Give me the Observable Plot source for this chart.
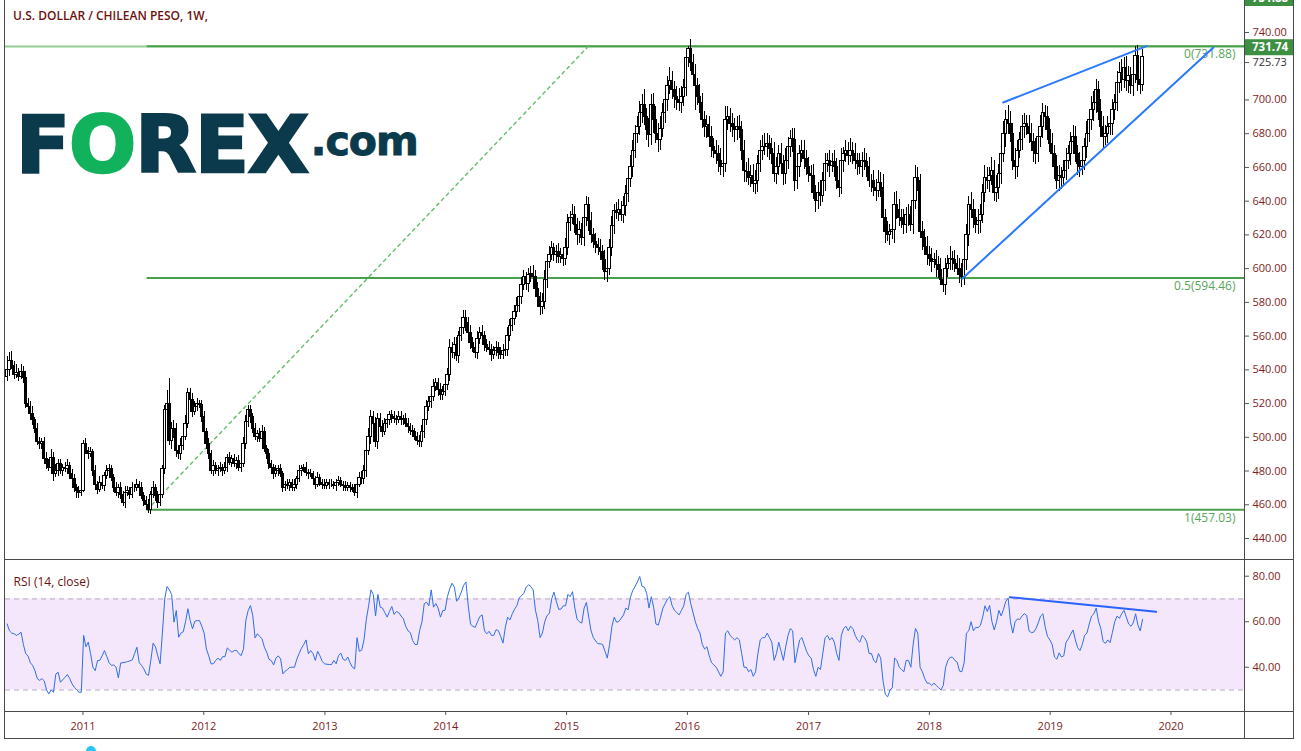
<!DOCTYPE html>
<html><head><meta charset="utf-8">
<script src="https://cdn.jsdelivr.net/npm/d3@7"></script>
<script src="https://cdn.jsdelivr.net/npm/@observablehq/plot@0.6"></script>
<style>
body{margin:0;background:#fff;}
#wrap{position:relative;width:1301px;height:751px;overflow:hidden;background:#fff;font-family:"Open Sans",sans-serif;}
#wrap svg{position:absolute;left:0;display:block;}
.ln{position:absolute;background:#4a4a4a;}
#title{position:absolute;left:13px;top:7px;font:600 12px "Open Sans",sans-serif;color:#6d1010;white-space:nowrap;z-index:3;}
#logo{position:absolute;left:16px;top:106px;z-index:3;font-family:"DejaVu Sans",sans-serif;font-weight:bold;white-space:nowrap;line-height:1;}
#logo .big{font-size:79px;color:#0b3a4c;letter-spacing:-1px;-webkit-text-stroke:2.5px #0b3a4c;}
#logo .o{color:#12b25d;-webkit-text-stroke:2.5px #12b25d;}
#logo .com{font-size:41px;color:#0b3a4c;letter-spacing:-1px;position:relative;top:-17px;margin-left:3px;-webkit-text-stroke:1px #0b3a4c;}
#cyan{position:absolute;left:86px;top:746px;width:10px;height:10px;border-radius:50%;background:#2cc4f4;}
</style></head><body><div id="wrap">
<div id="title">U.S. DOLLAR / CHILEAN PESO, 1W,</div>
<div id="logo"><span class="big">F<span class="o">O</span>REX</span><span class="com">.com</span></div>
<div id="cyan"></div>
</div>
<script>
// ---------------- DATA ----------------
const firstWeek = "2010-05-17";
const firstOpen = 536;
const close2010 = [540,545,542,537,538,536,539,535,520,518,514,510,505,497,496,497,487,484,482,488,478,480,484,480,482,481,483,478,475,470,468,467,468];
const close2011 = [496,492,490,491,480,472,469,473,471,477,480,481,476,470,467,470,466,461,467,468,466,470,470,472,470,465,462,460,457,466,470,465,461,466,481,516,520,498,505,505,492,490,495,500,508,526,522,515,518,520,519,512];
const close2012 = [503,496,490,480,483,480,481,482,480,482,488,485,487,484,486,482,484,496,509,516,512,505,500,502,499,503,493,490,484,482,478,480,481,478,470,472,471,473,470,472,475,480,481,482,479,478,478,475,472,476,473,472,471];
const close2013 = [473,472,472,471,473,474,472,471,470,471,470,469,467,472,476,475,480,492,500,512,508,497,511,506,503,508,510,513,512,511,510,512,510,511,508,506,504,503,500,498,497,503,510,518,521,524,530,532,528,525,527,531];
const close2014 = [537,553,550,555,548,560,565,571,568,562,556,553,550,558,562,560,555,553,552,549,551,553,550,549,551,552,560,566,570,574,578,583,590,595,591,596,597,595,588,583,577,580,593,604,608,612,608,610,607,608,606,612];
const close2015 = [627,630,632,626,620,623,618,630,638,628,620,616,614,612,610,605,598,600,612,625,634,633,635,632,637,644,653,660,670,680,684,692,697,690,682,679,697,688,680,676,683,692,700,708,711,706,702,700,698,702,707,725];
const close2016 = [730,722,715,708,702,698,688,684,685,678,672,670,668,664,660,662,688,690,686,684,682,684,682,670,658,657,654,655,650,652,662,670,672,672,674,671,668,656,660,668,662,656,664,672,677,676,652,660,668,670,665,660];
const close2017 = [656,655,645,640,645,643,652,662,664,661,663,660,652,648,664,668,670,667,670,668,664,662,660,664,663,660,652,652,648,646,651,648,630,622,620,622,623,638,635,630,628,626,632,632,626,640,654,652,622,618,613,608];
const close2018 = [606,604,605,602,599,593,590,600,603,606,605,603,600,596,595,605,620,638,635,630,626,628,632,645,654,652,655,658,645,648,656,668,680,688,686,680,664,660,670,676,684,686,684,680,675,670,668,678,684,692,690,682,674];
const close2019 = [668,660,652,655,654,658,664,668,675,678,668,662,660,664,672,680,688,694,698,706,693,684,678,680,684,686,694,698,710,716,712,719,711,714,708,715,726,712,709,725.73];

// upper / lower wick lengths beyond the candle body
const up2010 = [8,5,6,3,5,3,4,3,4,3,3,4,2,3,3,2,3,4,3,5,3,4,3,3,2,3,4,2,3,3,2,3,2];
const dn2010 = [3,4,2,3,2,3,2,3,3,2,4,3,3,2,3,3,2,3,2,3,4,2,3,2,3,2,3,3,2,3,4,3,2];
const up2011 = [2,3,2,3,2,3,2,4,3,2,3,3,2,2,3,2,3,2,4,3,2,3,2,3,2,3,2,3,3,2,4,2,3,2,2,3,8,15,4,5,3,3,4,3,5,3,3,4,3,3,2,3];
const dn2011 = [1,2,3,2,3,2,3,2,2,3,2,3,2,3,2,3,3,2,3,2,3,2,3,2,3,2,3,2,2,3,2,3,3,2,2,3,4,3,5,6,4,3,4,3,2,3,4,3,2,3,2,3];
const up2012 = [3,2,3,2,3,2,2,3,2,3,2,3,2,3,2,3,2,4,4,3,3,2,3,2,3,4,3,2,3,2,2,3,2,3,2,2,3,2,2,3,2,3,2,2,3,2,3,2,2,3,2,2,3];
const dn2012 = [2,3,3,2,3,2,3,2,3,2,3,2,3,2,3,2,3,2,3,3,4,3,2,3,2,3,2,3,3,2,3,2,3,2,3,2,2,3,2,2,3,2,3,2,2,3,2,2,3,2,2,3,2];
const up2013 = [2,2,3,2,2,3,2,2,3,2,2,2,3,2,3,4,3,4,5,4,3,4,3,3,4,3,3,2,3,3,2,3,3,2,3,3,2,3,2,3,3,4,3,4,3,3,4,3,3,4,3,4];
const dn2013 = [2,3,2,2,3,2,2,3,2,2,3,2,2,3,2,3,3,4,3,4,3,3,4,3,3,2,3,3,4,3,3,2,3,3,2,4,3,3,2,3,3,3,4,3,3,4,3,3,4,3,3,3];
const up2014 = [4,5,3,4,4,3,5,4,4,3,4,3,4,5,3,4,3,3,4,3,3,4,3,3,4,3,5,4,3,4,5,4,5,4,3,4,4,5,4,4,3,5,6,4,5,4,3,4,5,4,4,6];
const dn2014 = [3,4,3,4,3,4,3,4,5,3,4,3,3,4,3,3,4,3,3,4,3,3,4,3,3,3,4,3,3,4,3,4,4,3,4,5,4,4,5,6,5,4,4,5,4,3,4,5,4,4,5,4];
const up2015 = [5,4,6,5,4,5,4,6,5,4,5,4,5,4,5,4,6,5,5,6,4,5,6,5,6,5,6,7,6,5,6,7,6,9,5,7,6,7,8,6,7,6,7,6,8,6,5,6,7,6,5,5];
const dn2015 = [4,5,4,5,6,5,4,5,5,6,5,4,5,4,5,6,5,6,4,5,5,4,5,4,5,6,5,5,6,5,6,5,6,5,6,7,6,8,6,7,6,5,6,7,5,6,7,6,5,6,6,5];
const up2016 = [1.9,6,5,6,5,7,6,5,6,5,6,5,6,5,7,6,8,6,5,6,5,6,7,5,6,5,8,6,7,6,5,6,7,8,6,5,6,7,6,5,6,5,7,6,5,6,7,6,5,6,6,5];
const dn2016 = [6,5,6,14,5,6,5,6,7,5,6,5,6,7,5,6,5,6,5,6,7,6,5,6,7,6,5,6,5,6,7,5,6,5,6,7,6,5,6,5,6,7,6,5,6,7,6,5,6,5,6,5];
const up2017 = [6,5,7,4,6,7,5,6,4,6,5,7,5,6,7,4,6,5,7,5,6,4,6,5,7,5,6,4,6,5,7,6,8,5,6,4,6,7,8,6,5,7,4,6,5,8,7,6,4,6,5,6];
const dn2017 = [5,6,4,7,5,6,4,6,5,7,4,6,5,6,4,7,5,6,4,6,5,7,4,6,5,6,4,7,5,6,4,6,5,7,4,6,5,8,6,5,4,6,5,7,4,6,5,6,4,7,5,6];
const up2018 = [5,6,4,6,5,7,4,6,5,7,4,6,5,6,7,8,6,5,7,6,5,7,6,5,7,6,5,8,6,7,6,8,7,6,9,7,6,7,6,5,7,6,5,7,6,5,7,6,7,6,5,6,7];
const dn2018 = [5,6,4,7,5,3,4,6,5,4,6,5,3,5,6,5,6,7,5,6,5,6,7,5,6,5,7,6,5,6,7,6,5,8,6,5,6,7,6,5,6,7,5,6,5,7,6,5,6,7,5,6,5];
const up2019 = [6,5,7,6,5,6,7,5,6,7,6,5,7,6,5,7,6,8,7,6,5,7,6,5,6,7,6,5,7,6,8,6,7,6,5,7,5.7,6,5,4];
const dn2019 = [6,7,5,6,7,5,6,5,7,6,5,7,6,5,6,7,5,6,7,6,5,6,7,5,6,5,7,6,5,6,7,5,6,7,5,6,5,7,6,4];

// RSI (14, close), weekly
const rsi2010 = [59,56,55,54.7,54,54.5,55.4,50,46,45,42,40.8,38.5,35,34.2,35,34,30,28.3,30,29,37,37.8,33.4,34.5,35.6,36.8,35,32.7,31.2,30,29,29];
const rsi2011 = [54,49,51,46,40,38.5,42.9,43,45,47.3,44.7,42,40.8,41,40,35.3,41.9,42,42.2,42.5,42.8,43.2,46,48.8,42,40.8,39.3,37,36.4,43,50.6,49,45,41.5,55,70,75.5,74,72,59.8,64.9,53.2,55,55.6,60,65.7,60.5,56.9,60.2,60.5,60.5,58];
const rsi2012 = [55,48,45,41.5,41.5,43,44,43,44.7,44.6,48.5,47.5,46.6,47.3,47.4,46,45.1,48.1,60.5,64.9,67.1,62.7,52.9,54.7,53.5,52.5,48.8,46.6,43.5,42.9,41,44,45,43.7,37.1,38.3,39,40,40,40,43.5,46,48.3,50,52,45.9,47.3,46,43,47,45,42.5,41.5];
const rsi2013 = [41.3,41.2,41.2,43,41.5,45.1,46.2,43.5,43,44.5,42,40,39.3,53,47,47.5,52,61,67,74,72,62.5,72,66.4,66,64,62,64.5,66.7,63.2,64.5,64,62.5,61.3,58,56,55.2,51.7,50,50,56.1,59.8,67.9,68.6,67,74,66.4,68,66,62,64.9,65];
const rsi2014 = [71,74.5,76.9,75.2,69,70.5,73,76,77.5,67,58.8,58,57.5,60,62.3,63,56,54.7,55.8,54,54,56.5,56,53.5,50.6,57.6,62,60.8,63.5,65.5,67.1,70.5,71.4,72.5,75.2,76.2,75.5,74,65,60.5,53,55,60,62.7,63.6,70,73,69,65.5,65.5,67,67];
const rsi2015 = [72,71,73.2,66,61,60,59.4,66,68.5,62,56,53,51.5,50.3,50.3,50,47,44,50,58,62,59.8,60.1,61.5,63,66,65.2,70.8,73.8,75.5,77.5,79.9,75.5,75.2,72.5,66,71,66.4,59,58.5,62,66,68,70,71,67,65,64,63,65,67,72];
const rsi2016 = [73,68,64,60,57,55,50,48,49,45,42,41,40,38,36,38,55,56,54,53,52,53,52,46,40,40,38,39,36,38,46,52,53,53,55,53,51,43,46,51,47,43,49,54,57,56,42,47,52,53,50,47];
const rsi2017 = [45,44,39,36,40,39,46,53,54,52,53,51,46,43,54,57,58,56,58,57,54,52,51,54,53,51,46,46,43,42,46,44,34,28,27,30,31,44,43,40,39,38,43,43,40,50,57,55,40,38,35,33];
const rsi2018 = [33,32,33,32,31,30,32,40,43,44.4,44.4,43,42.2,38.3,38,42,55,56,60,56,57.5,57.4,58.3,62,67,64.5,67.2,60,56.4,60,65,62.5,65.5,69,70.3,60,55,60,61.2,61,62.5,63.5,62.8,56,55.2,55.4,57,59.5,62.5,63.5,57.6,53.5,52];
const rsi2019 = [50,44.5,43.5,46.3,44.5,45,51,52.5,54.5,56.4,52,48.6,47.3,50,54,55,59,62.5,63.5,66,60.2,57,51.3,50.5,52,50.8,55.3,60,62.5,61.5,63.5,65,62,59,58,59.5,63.5,58.5,56,61];

// axis ticks
const priceTicks = [740,700,680,660,640,620,600,580,560,540,520,500,480,460,440];
const rsiTicks = [80,60,40];
const yearTicks = [2011,2012,2013,2014,2015,2016,2017,2018,2019,2020];
const lastPrice = 725.73;
const boxPrice = 731.74;
const topBoxPrice = 751.88;

// drawings
const hLevels = [731.74];
const fibValues = [731.88, 594.46, 457.03];
const fibLabels = ["0(731.88)", "0.5(594.46)", "1(457.03)"];
const fibStart = "2011-07-14";
const fibDiagDates = ["2011-07-14", "2015-03-08"];
const fibDiagValues = [457.03, 731.88];
const trendIds = ["upper", "upper", "lower", "lower"];
const trendDates = ["2018-08-12", "2019-10-19", "2018-04-10", "2020-05-08"];
const trendValues = [698.5, 731.9, 594.0, 731.1];
const rsiTrendDates = ["2018-09-01", "2019-11-17"];
const rsiTrendValues = [70.8, 64.35];

// ---------------- BUILD ----------------
const DAY = 864e5;
const xStart = new Date("2010-05-12T00:00:00Z");
const xEnd = new Date("2020-08-10T00:00:00Z");
const t0 = +new Date(firstWeek + "T00:00:00Z");
const closes = [...close2010, ...close2011, ...close2012, ...close2013, ...close2014, ...close2015, ...close2016, ...close2017, ...close2018, ...close2019];
const ups = [...up2010, ...up2011, ...up2012, ...up2013, ...up2014, ...up2015, ...up2016, ...up2017, ...up2018, ...up2019];
const dns = [...dn2010, ...dn2011, ...dn2012, ...dn2013, ...dn2014, ...dn2015, ...dn2016, ...dn2017, ...dn2018, ...dn2019];
const rsis = [...rsi2010, ...rsi2011, ...rsi2012, ...rsi2013, ...rsi2014, ...rsi2015, ...rsi2016, ...rsi2017, ...rsi2018, ...rsi2019];
if (ups.length !== closes.length || dns.length !== closes.length || rsis.length !== closes.length)
  console.error("length mismatch", closes.length, ups.length, dns.length, rsis.length);

const candles = closes.map((c, i) => {
  const o = i ? closes[i - 1] : firstOpen;
  return {date: new Date(t0 + i * 7 * DAY), open: o, close: c,
          high: Math.max(o, c) + (ups[i] ?? 3), low: Math.min(o, c) - (dns[i] ?? 3)};
});
const rsiData = rsis.map((v, i) => ({date: new Date(t0 + i * 7 * DAY), v}));
const fibData = fibValues.map((v, i) => ({v, label: fibLabels[i], start: new Date(fibStart + "T00:00:00Z"), end: xEnd}));
const fibDiag = fibDiagDates.map((d, i) => ({date: new Date(d + "T00:00:00Z"), v: fibDiagValues[i]}));
const trendData = trendDates.map((d, i) => ({id: trendIds[i], date: new Date(d + "T00:00:00Z"), v: trendValues[i]}));
const rsiTrend = rsiTrendDates.map((d, i) => ({date: new Date(d + "T00:00:00Z"), v: rsiTrendValues[i]}));
const yearDates = yearTicks.map(y => new Date(Date.UTC(y, 0, 1)));

const AXIS_RED = "#7f1d1d";
const FONT = "'Open Sans', sans-serif";
const wrap = document.getElementById("wrap");

// ---------- price panel ----------
const price = Plot.plot({
  width: 1301, height: 559,
  marginLeft: 5, marginRight: 57, marginTop: 0, marginBottom: 0,
  style: {fontFamily: FONT, fontSize: "11px", background: "transparent", overflow: "visible"},
  x: {type: "utc", domain: [xStart, xEnd], axis: null},
  y: {domain: [427.55, 758.97]},
  marks: [
    Plot.ruleY(hLevels, {stroke: "#93cd95", strokeWidth: 2}),
    Plot.ruleY(fibData, {y: "v", x1: "start", x2: "end", stroke: "#48a04c", strokeWidth: 2}),
    Plot.line(fibDiag, {x: "date", y: "v", stroke: "#6cc070", strokeWidth: 1.5, strokeDasharray: "3,4"}),
    Plot.text(fibData, {y: "v", text: "label", frameAnchor: "right", textAnchor: "end", dx: -9, dy: 8, fill: "#5aa55d", fontSize: 12}),
    Plot.ruleX(candles, {x: "date", y1: "low", y2: "high", stroke: "#000", strokeWidth: 1, shapeRendering: "crispEdges"}),
    Plot.rect(candles, {
      x1: d => new Date(+d.date - 3.5 * DAY), x2: d => new Date(+d.date + 3.5 * DAY),
      y1: "open", y2: "close",
      fill: d => d.close >= d.open ? "#fff" : "#000", stroke: "#000", strokeWidth: 1, shapeRendering: "crispEdges"
    }),
    Plot.line(trendData, {x: "date", y: "v", z: "id", stroke: "#2979ff", strokeWidth: 2}),
    Plot.axisY(priceTicks, {anchor: "right", tickSize: 4, tickPadding: 4, tickFormat: d => d.toFixed(2), stroke: "#555", fill: AXIS_RED, label: null}),
    Plot.axisY([lastPrice], {anchor: "right", tickSize: 4, tickPadding: 4, tickFormat: d => d.toFixed(2), stroke: "#555", fill: "#333", dy: 6, label: null})
  ]
});
price.style.top = "0px";
wrap.appendChild(price);

// green price label boxes on the price scale
{
  const ys = price.scale("y");
  const svg = d3.select(price);
  const g = svg.append("g").attr("text-anchor", "start").attr("font-family", FONT);
  const yb = ys.apply(boxPrice) + 1.3;
  g.append("rect").attr("x", 1244).attr("y", yb - 8).attr("width", 50).attr("height", 16).attr("fill", "#3d8f41");
  g.append("text").attr("x", 1252).attr("y", yb).attr("dy", "0.35em").attr("fill", "#fff")
    .attr("font-weight", "bold").attr("font-size", 11.5).text(boxPrice.toFixed(2));
  const yt = ys.apply(topBoxPrice);
  g.append("rect").attr("x", 1244).attr("y", -10).attr("width", 50).attr("height", 16).attr("fill", "#3d8f41");
  g.append("text").attr("x", 1252).attr("y", Math.min(yt, -2)).attr("dy", "0.35em").attr("fill", "#fff")
    .attr("font-weight", "bold").attr("font-size", 11.5).text(topBoxPrice.toFixed(2));
}

// ---------- RSI panel ----------
const rsiPlot = Plot.plot({
  width: 1301, height: 179,
  marginLeft: 5, marginRight: 57, marginTop: 0, marginBottom: 27,
  style: {fontFamily: FONT, fontSize: "11px", background: "transparent", overflow: "visible"},
  x: {type: "utc", domain: [xStart, xEnd]},
  y: {domain: [20.55, 87.34]},
  marks: [
    Plot.rect([{lo: 30, hi: 70, a: xStart, b: xEnd}], {x1: "a", x2: "b", y1: "lo", y2: "hi", fill: "#f4e7fc"}),
    Plot.ruleY([30, 70], {stroke: "#b9a7c4", strokeDasharray: "5,4"}),
    Plot.line(rsiData, {x: "date", y: "v", stroke: "#2f6fe8", strokeWidth: 1}),
    Plot.line(rsiTrend, {x: "date", y: "v", stroke: "#2962ff", strokeWidth: 2}),
    Plot.text(["RSI (14, close)"], {frameAnchor: "top-left", dx: 8, dy: 18, textAnchor: "start", fill: "#6d1010", fontSize: 12}),
    Plot.axisY(rsiTicks, {anchor: "right", tickSize: 4, tickPadding: 4, tickFormat: d => d.toFixed(2), stroke: "#555", fill: AXIS_RED, label: null}),
    Plot.axisX(yearDates, {anchor: "bottom", tickSize: 4, tickPadding: 7, tickFormat: d => String(d.getUTCFullYear()), stroke: "#555", fill: AXIS_RED, label: null, fontSize: 11})
  ]
});
rsiPlot.style.top = "559px";
wrap.appendChild(rsiPlot);

// ---------- frame lines ----------
function line(l, t, w, h) {
  const d = document.createElement("div");
  d.className = "ln";
  Object.assign(d.style, {left: l + "px", top: t + "px", width: w + "px", height: h + "px", zIndex: 2});
  wrap.appendChild(d);
}
line(4, 0, 1, 739);      // left
line(1293, 0, 1, 739);   // right outer
line(1244, 0, 1, 739);   // price axis separator
line(4, 559, 1290, 1);   // pane separator
line(4, 711, 1290, 1);   // time axis top
line(4, 738, 1290, 1);   // bottom
</script></body></html>
